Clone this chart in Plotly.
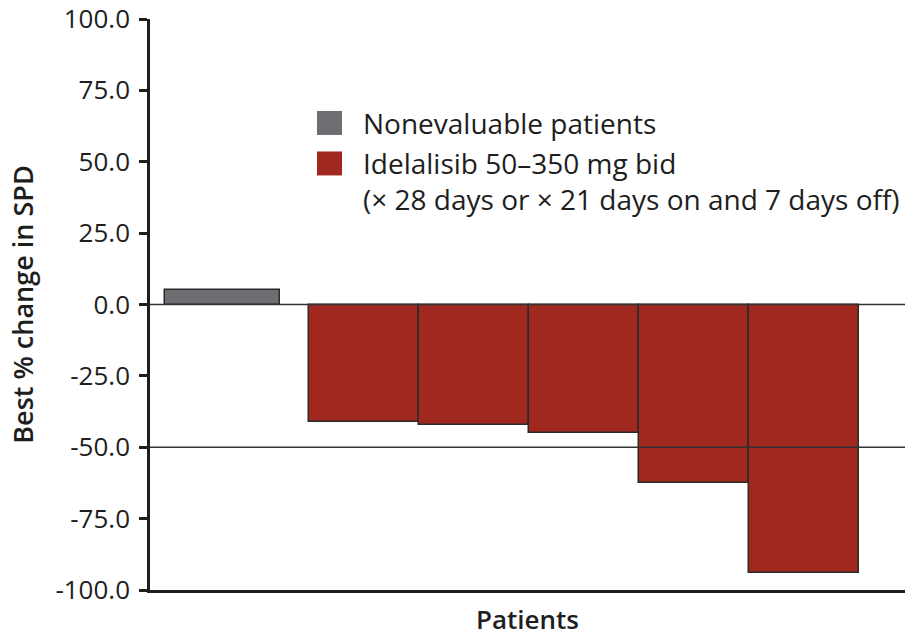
import plotly.graph_objects as go

# Best % change in SPD per patient
nonevaluable_patient = [1]
nonevaluable_change = [5.0]

idelalisib_patients = [2, 3, 4, 5, 6]
idelalisib_change = [-41.0, -42.2, -45.1, -62.5, -94.2]

y_ticks = [100, 75, 50, 25, 0, -25, -50, -75, -100]
y_tick_text = [f"{v:.1f}" for v in y_ticks]

legend_labels = [
    "Nonevaluable patients",
    "Idelalisib 50\u2013350 mg bid<br>(\u00d7 28 days or \u00d7 21 days on and 7 days off)",
]

GRAY = "#6d6e71"
RED = "#a0281f"
EDGE = "#2b2b2b"
INK = "#1e1e1e"
FONT = "Open Sans"

fig = go.Figure()
fig.add_trace(go.Bar(
    x=nonevaluable_patient, y=nonevaluable_change,
    width=1.045, offset=-0.81,
    marker=dict(color=GRAY, line=dict(color=EDGE, width=1.5)),
    showlegend=False,
))
fig.add_trace(go.Bar(
    x=idelalisib_patients, y=idelalisib_change,
    width=1.0,
    marker=dict(color=RED, line=dict(color=EDGE, width=1.5)),
    showlegend=False,
))

# reference lines at 0 and -50
for yv in (0, -50):
    fig.add_shape(type="line", xref="paper", yref="y", x0=0, x1=1, y0=yv, y1=yv,
                  line=dict(color="#333333", width=1.3), layer="above")

# legend: square swatches with labels beside them
swatch_y = [0.8179, 0.747]
label_y = [0.8179, 0.716]
legend_font = dict(family=FONT, size=28, color=INK)
for color, ys, ly, label in zip([GRAY, RED], swatch_y, label_y, legend_labels):
    fig.add_shape(type="rect", xref="paper", yref="paper",
                  x0=0.2212, x1=0.2543, y0=ys - 0.021, y1=ys + 0.021,
                  fillcolor=color, line=dict(width=0))
    fig.add_annotation(xref="paper", yref="paper", x=0.279, y=ly,
                       text=label, showarrow=False, xanchor="left", yanchor="middle",
                       align="left", font=legend_font)

fig.update_layout(
    width=910, height=637,
    margin=dict(l=150, r=5, t=19, b=47, autoexpand=False),
    paper_bgcolor="white", plot_bgcolor="white",
    bargap=0,
    font=dict(family=FONT, color=INK),
    xaxis=dict(
        range=[0.055, 6.92], showticklabels=False, ticks="", showgrid=False,
        zeroline=False, showline=True, linecolor=INK, linewidth=2.5,
        automargin=False,
        title=dict(text="Patients", font=dict(family=FONT, size=26, color=INK, weight=600), standoff=27),
    ),
    yaxis=dict(
        range=[-100, 100], tickvals=y_ticks, ticktext=y_tick_text,
        ticks="outside", ticklen=8, tickwidth=2.5, tickcolor=INK,
        ticklabelstandoff=4, ticklabeloverflow="allow",
        tickfont=dict(family=FONT, size=26, color=INK),
        showgrid=False, zeroline=False, showline=True, linecolor=INK, linewidth=2.5,
        automargin=False,
        title=dict(text="Best % change in SPD", font=dict(family=FONT, size=27, color=INK, weight=600), standoff=14),
    ),
)

fig.write_html("out.html")
